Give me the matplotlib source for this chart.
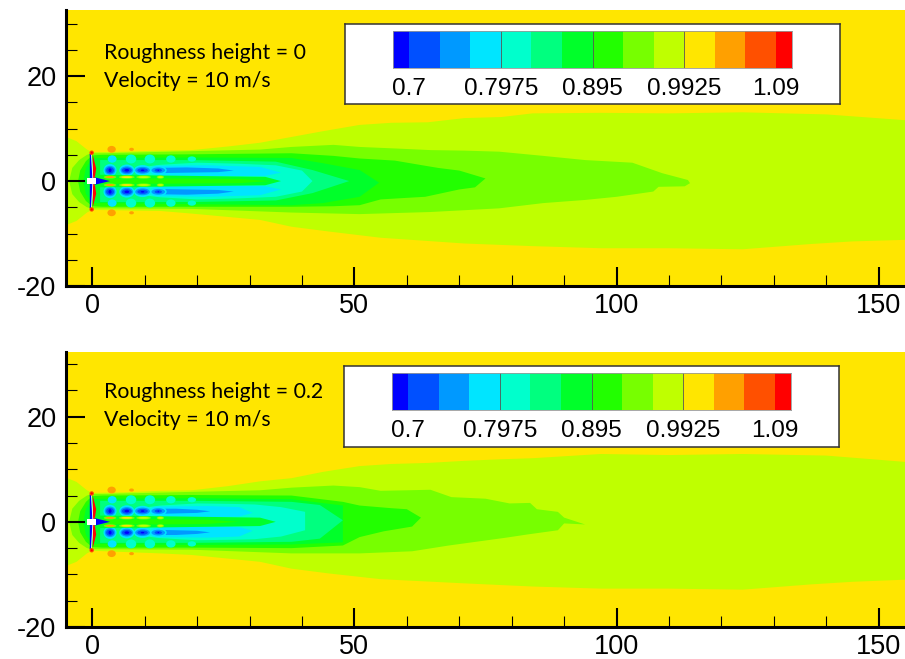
import matplotlib
matplotlib.use("Agg")
import matplotlib.pyplot as plt
from matplotlib.patches import Ellipse, Rectangle
from matplotlib.ticker import MultipleLocator

W, H = 905, 659

# colour bands, low to high
band_colors = ["#0000FF", "#0050FF", "#0099FF", "#00E5FF", "#00FFCC", "#00FF7F", "#00FF2A",
               "#22FF00", "#77FF00", "#BFFF00", "#FFE600", "#FFA000", "#FF5000", "#FF0000"]
band_edges = [0.6827, 0.7, 0.7325, 0.765, 0.7975, 0.83, 0.8625, 0.895, 0.9275, 0.96, 0.9925,
              1.025, 1.0575, 1.09, 1.1066]
cbar_ticks = [0.7, 0.7975, 0.895, 0.9925, 1.09]
cbar_labels = ["0.7", "0.7975", "0.895", "0.9925", "1.09"]

x_ticks = [0, 50, 100, 150]
y_ticks = [-20, 0, 20]
BLUE, BLUE2, BLUE3, CYAN, TEAL, SPRING, GREEN, GREEN2, LIME, LIME2, YEL, ORANGE, ORANGE2, RED = band_colors

# ---- top panel outlines
t_lime_x = [-5, -3, -1, 0, 6, 13, 19, 26, 32, 38, 44, 51, 57, 64, 71, 78, 84, 97, 110, 124, 140, 155,
            155, 145, 137, 124, 110, 97, 84, 71, 55, 45, 38, 32, 19, 13, 0, -1, -3, -5]
t_lime_y = [8.4, 7.6, 6, 5.5, 5.6, 5.8, 5.9, 6.6, 7.3, 8.4, 9.5, 10.7, 11.1, 11.2, 12, 12.2, 12.9, 13, 12.9, 13.1, 12.7, 11.6,
            -11.2, -11.5, -12, -13, -12.8, -12.8, -12.4, -11.9, -10.8, -9.6, -8.7, -7.4, -6.2, -5.7, -5.5, -6, -7.6, -8.4]
t_lime3_x = [-4.4, -3.8, -2.5, -1, 0, 2, 19, 32, 38, 46, 51, 58, 64.5, 71, 77.6, 86, 94, 103, 105, 108.7, 113.6, 114,
             113, 108, 107, 100, 94, 86, 77.6, 64.5, 51, 38, 19, 2, 0, -1, -2.5, -3.8]
t_lime3_y = [0, 2.5, 4, 5, 5.3, 5.3, 5.7, 6, 6.5, 6.9, 6.5, 6.2, 5.9, 5.8, 5.6, 4.8, 4, 3.5, 2.8, 1.5, 0.2, -0.4,
             -1, -1.1, -2, -3, -3.6, -4.2, -5.2, -5.9, -6.3, -6, -5.3, -5.2, -5.2, -5, -4, -2.5]
t_green2_x = [-2.7, -2.3, -1.2, 0, 2, 19, 38, 46, 51, 57.7, 63, 66, 70, 75, 73, 70, 63.5, 60, 55, 51, 46, 38, 19, 2, 0, -1.2, -2.3]
t_green2_y = [0, 2, 3.8, 4.9, 5, 5.1, 5.3, 4.8, 4.3, 3.9, 3, 2.5, 2, 0.5, -1.2, -1.6, -3, -3.2, -3.5, -4.6, -4.8, -4.9, -4.9, -4.9, -4.8, -3.8, -2]
t_green_x = [-1.7, -1.2, 0, 2, 19, 38, 44, 51, 54.7, 51, 44, 38, 19, 2, 0, -1.2]
t_green_y = [0, 2.5, 4.3, 4.4, 4.5, 4.4, 3.4, 2.1, -0.3, -3, -4.2, -4.6, -4.4, -4.2, -4.2, -2.5]
t_spring_x = [1.5, 19, 35, 42, 49, 42, 35, 19, 1.5]
t_spring_y = [4, 4, 3.7, 2.1, 0, -2.3, -3.7, -4, -4]
t_teal_x = [9, 13, 20, 28, 35, 40, 42, 40, 35, 28, 20, 13, 9]
t_teal_y = [2.6, 3.1, 3.5, 3.3, 3, 2, 0, -2, -3, -3.3, -3.5, -3.1, -2.6]
t_cyan_x = [13, 22, 32, 36, 33, 22, 13]
t_cyan_y = [2.9, 3, 2.7, 1.6, 1, 0.9, 1]
t_blue_x = [12, 18, 24, 27, 24, 18, 12]
t_blue_y = [2.5, 2.6, 2.4, 2, 1.7, 1.6, 1.5]
t_core_x = [1, 10, 25, 33, 36, 33, 25, 10, 1]
t_core_y = [1.2, 1.1, 0.9, 0.8, 0, -0.8, -0.9, -1.1, -1.2]
t_strip_x = [1, 15, 28, 34, 28, 15, 1]
t_strip_y = [0.5, 0.5, 0.4, 0, -0.4, -0.5, -0.5]

# ---- bottom panel outlines
b_lime_x = [-5, -3, -1, 0, 6, 13, 19, 26, 32, 38, 44, 51, 57, 64, 71, 78, 84, 97, 110, 124, 140, 155,
            155, 145, 137, 124, 110, 97, 84, 71, 55, 45, 38, 32, 19, 13, 0, -1, -3, -5]
b_lime_y = [8.4, 7.6, 6, 5.5, 5.6, 5.9, 6, 6.8, 7.7, 8.3, 9.5, 10.6, 11, 11.2, 11.6, 11.9, 12.1, 12.9, 12.7, 12.9, 12.6, 11.4,
            -11, -11.4, -11.9, -12.9, -12.7, -12.7, -12.3, -11.7, -10.9, -9.8, -8.9, -7.6, -6.3, -6, -5.5, -6, -7.6, -8.4]
b_lime3_x = [-4.4, -3.8, -2.5, -1, 0, 2, 19, 32, 38, 46, 51, 55, 60, 64.5, 68.5, 75, 79.6, 83.5, 84.8, 88.8, 90, 94,
             90, 88.8, 83, 79, 68, 61, 51, 38, 19, 2, 0, -1, -2.5, -3.8]
b_lime3_y = [0, 2.5, 4, 5, 5.3, 5.3, 5.7, 6, 6.5, 6.9, 6.6, 5.9, 6, 6.1, 4.7, 4.4, 3.5, 3.6, 2.4, 1.9, 0.8, -0.5,
             -0.3, -1.6, -2.4, -3, -4.5, -5.6, -6, -6, -5.3, -5.2, -5.2, -5, -4, -2.5]
b_green2_x = [-2.7, -2.3, -1.2, 0, 2, 19, 38, 47.8, 51, 57, 60, 62.7, 61, 55.6, 51, 47.8, 38, 19, 2, 0, -1.2, -2.3]
b_green2_y = [0, 2, 3.8, 4.9, 5, 5.1, 5, 3.8, 3.1, 2.6, 2.4, 0.8, -0.9, -1.8, -2.9, -4.5, -5, -4.9, -4.9, -4.8, -3.8, -2]
b_green_x = [-1.7, -1.2, 0, 2, 19, 38, 47.8, 47.8, 38, 19, 2, 0, -1.2]
b_green_y = [0, 2.5, 4.3, 4.4, 4.5, 4.3, 3.1, -3.9, -4.3, -4.4, -4.2, -4.2, -2.5]
b_spring_x = [1.5, 19, 38, 43.4, 47.8, 43.4, 38, 19, 1.5]
b_spring_y = [4, 4, 3.8, 3.2, 0.3, -3.2, -3.8, -4, -4]
b_teal_x = [9, 13, 20, 27, 31, 36, 40.6, 40.6, 36, 31, 27, 20, 13, 9]
b_teal_y = [2.6, 3.1, 3.5, 3.4, 3.3, 2.8, 1.9, -1.6, -2.8, -3.3, -3.4, -3.5, -3.1, -2.6]
b_cyan_x = [13, 22, 28, 30.6, 28, 22, 13]
b_cyan_y = [2.9, 3, 2.8, 1.7, 1, 0.9, 1]
b_blue_x = [12, 16, 20, 22.5, 20, 16, 12]
b_blue_y = [2.5, 2.5, 2.3, 2, 1.7, 1.6, 1.5]
b_core_x = [1, 10, 25, 32, 35, 32, 25, 10, 1]
b_core_y = [1.2, 1.1, 0.9, 0.8, 0, -0.8, -0.9, -1.1, -1.2]
b_strip_x = [1, 12, 22, 28, 22, 12, 1]
b_strip_y = [0.5, 0.5, 0.4, 0, -0.4, -0.5, -0.5]

# ---- near wake, same in both panels
lobe_x = [3.4, 6.6, 9.6, 12.6]
lobe_cyan_w = [2.5, 2.9, 3.3, 3.2]
lobe_cyan_h = [2.4, 2.2, 2, 1.8]
lobe_blue_w = [2, 2.4, 2.8, 2.6]
lobe_blue_h = [1.7, 1.5, 1.3, 1.1]
lobe_blue2_w = [1.5, 1.9, 2, 1.4]
lobe_blue2_h = [1.2, 1, 0.8, 0.6]
lobe_core_w = [0.6, 0.9, 0.7, 0.3]
lobe_core_h = [0.7, 0.5, 0.3, 0.2]
outer_blob_x = [3.8, 7.4, 11, 15, 19]
outer_blob_w = [1.7, 2, 2, 1.8, 1.6]
outer_blob_h = [1.4, 1.7, 1.7, 1.4, 1]
wake_orange_x = [3.7, 7.5]
wake_orange_w = [1.6, 0.9]
wake_orange_h = [1.3, 0.6]
wake_yellow_x = [3.4, 6.6, 9.8, 13]
wake_yellow_w = [2.4, 3, 2.8, 1.4]
wake_yellow_c = [ORANGE, YEL, LIME2, LIME2]

blade_blue_x = [-0.35, -0.2, -0.05, 0.05, -0.05, -0.2, -0.35]
blade_blue_y = [5.2, 2.5, 0, 0, 0, -2.5, -5.2]
blade_red_x = [0.1, 0.4, 0.75, 0.55, 0.2, 0.55, 0.75, 0.4, 0.1]
blade_red_y = [5, 3.8, 2.4, 1, 0, -1, -2.4, -3.8, -5]
cone_x = [0.5, 3.4, 0.5]
cone_y = [0.7, 0, -0.7]
tip_y = [5.4, -5.4]

top_regions = [(t_lime_x, t_lime_y, LIME2), (t_lime3_x, t_lime3_y, LIME), (t_green2_x, t_green2_y, GREEN2),
               (t_green_x, t_green_y, GREEN), (t_spring_x, t_spring_y, SPRING), (t_teal_x, t_teal_y, TEAL)]
bottom_regions = [(b_lime_x, b_lime_y, LIME2), (b_lime3_x, b_lime3_y, LIME), (b_green2_x, b_green2_y, GREEN2),
                  (b_green_x, b_green_y, GREEN), (b_spring_x, b_spring_y, SPRING), (b_teal_x, b_teal_y, TEAL)]


def ell(ax, x, y, w, h, c):
    ax.add_patch(Ellipse((x, y), w, h, fc=c, ec="none"))


def draw_panel(ax, regions, cyan, blue, core, strip):
    ax.set_facecolor(YEL)
    for xs, ys, c in regions:
        ax.fill(xs, ys, color=c, lw=0)
    for s in (1, -1):
        ax.fill(cyan[0], [s * v for v in cyan[1]], color=CYAN, lw=0)
        ax.fill(blue[0], [s * v for v in blue[1]], color=BLUE3, lw=0)
        for i, x in enumerate(outer_blob_x):
            ell(ax, x, s * 4.2, outer_blob_w[i], outer_blob_h[i], CYAN if i == 0 else TEAL)
        for i, x in enumerate(lobe_x):
            ell(ax, x, s * 2.05, lobe_cyan_w[i], lobe_cyan_h[i], CYAN)
        for i, x in enumerate(lobe_x):
            ell(ax, x, s * 2.05, lobe_blue_w[i], lobe_blue_h[i], BLUE3)
            ell(ax, x, s * 2.05, lobe_blue2_w[i], lobe_blue2_h[i], BLUE2)
            ell(ax, x, s * 2.05, lobe_core_w[i], lobe_core_h[i], BLUE)
        for i, x in enumerate(wake_orange_x):
            ell(ax, x, s * 6.05, wake_orange_w[i], wake_orange_h[i], ORANGE)
    ax.fill(core[0], core[1], color=GREEN, lw=0)
    ax.fill(strip[0], strip[1], color=GREEN2, lw=0)
    for s in (1, -1):
        for i, x in enumerate(wake_yellow_x):
            ell(ax, x, s * 0.75, wake_yellow_w[i], 0.6, LIME)
            ell(ax, x, s * 0.75, wake_yellow_w[i] * 0.7, 0.35, wake_yellow_c[i])
    # rotor
    ax.fill(blade_red_x, blade_red_y, color=RED, lw=0)
    ax.fill([v + 0.22 for v in blade_blue_x], blade_blue_y, color="white", lw=0.4, ec="white")
    ax.fill(blade_blue_x, blade_blue_y, color=BLUE, lw=0.8, ec=BLUE)
    for y in tip_y:
        ell(ax, -0.1, y, 0.85, 0.85, ORANGE2)
        ell(ax, -0.1, y, 0.4, 0.4, RED)
    ax.fill(cone_x, cone_y, color=BLUE, lw=0)
    ax.add_patch(Rectangle((-1, -0.55), 1.65, 1.1, fc="white", ec="none"))

    ax.set_xlim(-5, 155)
    ax.xaxis.set_minor_locator(MultipleLocator(10))
    ax.yaxis.set_minor_locator(MultipleLocator(5))
    ax.set_xticks(x_ticks)
    ax.set_yticks(y_ticks)
    ax.tick_params(which="major", direction="in", length=14, width=1.5, labelsize=19.5)
    ax.tick_params(which="minor", direction="in", length=8, width=0.8)
    ax.tick_params(axis="x", which="major", pad=5)
    ax.tick_params(axis="y", which="major", pad=7)
    ax.spines["top"].set_visible(False)
    ax.spines["right"].set_visible(False)
    ax.spines["left"].set_linewidth(2.2)
    ax.spines["bottom"].set_linewidth(2.2)


def px_axes(fig, x0, y0, x1, y1, **kw):
    # pixel box, y counted from the top of the image
    return fig.add_axes([x0 / W, 1 - y1 / H, (x1 - x0) / W, (y1 - y0) / H], **kw)


def draw_legend(fig, x0, y0, x1, y1, bx0, by0, bx1, by1):
    box = px_axes(fig, x0, y0, x1, y1)
    box.set_xticks([])
    box.set_yticks([])
    for s in box.spines.values():
        s.set_linewidth(1.1)
        s.set_color("#333333")
    cb = px_axes(fig, bx0, by0, bx1, by1)
    for i, c in enumerate(band_colors):
        cb.barh(0, band_edges[i + 1] - band_edges[i], left=band_edges[i], height=1, color=c, lw=0)
    cb.set_xlim(band_edges[0], band_edges[-1])
    cb.set_ylim(-0.5, 0.5)
    cb.set_yticks([])
    cb.set_xticks(cbar_ticks)
    cb.set_xticklabels(cbar_labels, fontsize=17.5)
    cb.tick_params(axis="x", length=0, pad=7)
    for v in cbar_ticks[1:4]:
        cb.axvline(v, color="#555555", lw=0.6)
    for s in cb.spines.values():
        s.set_linewidth(0.6)
        s.set_color("#999999")


plt.rcParams["font.family"] = ["Liberation Sans", "DejaVu Sans"]
plt.rcParams["axes.unicode_minus"] = False
fig = plt.figure(figsize=(W / 100, H / 100), dpi=100)

ax1 = px_axes(fig, 66, 10, 905, 286)
draw_panel(ax1, top_regions, (t_cyan_x, t_cyan_y), (t_blue_x, t_blue_y), (t_core_x, t_core_y), (t_strip_x, t_strip_y))
ax1.set_ylim(-20, 32.6)

ax2 = px_axes(fig, 66, 352, 905, 627)
draw_panel(ax2, bottom_regions, (b_cyan_x, b_cyan_y), (b_blue_x, b_blue_y), (b_core_x, b_core_y), (b_strip_x, b_strip_y))
ax2.set_ylim(-20, 32.3)

draw_legend(fig, 344.5, 24, 840, 104, 392.7, 30.5, 791.7, 68)
draw_legend(fig, 343.5, 366, 839, 447, 391.7, 372.5, 790.7, 410)

for y, s in [(53, "Roughness height = 0"), (81, "Velocity = 10 m/s"),
             (392, "Roughness height = 0.2"), (420, "Velocity = 10 m/s")]:
    fig.text(104 / W, 1 - y / H, s, fontsize=15.3, family=["Lato", "DejaVu Sans"], va="center", ha="left", color="black")

fig.savefig("out.png", dpi=100)
